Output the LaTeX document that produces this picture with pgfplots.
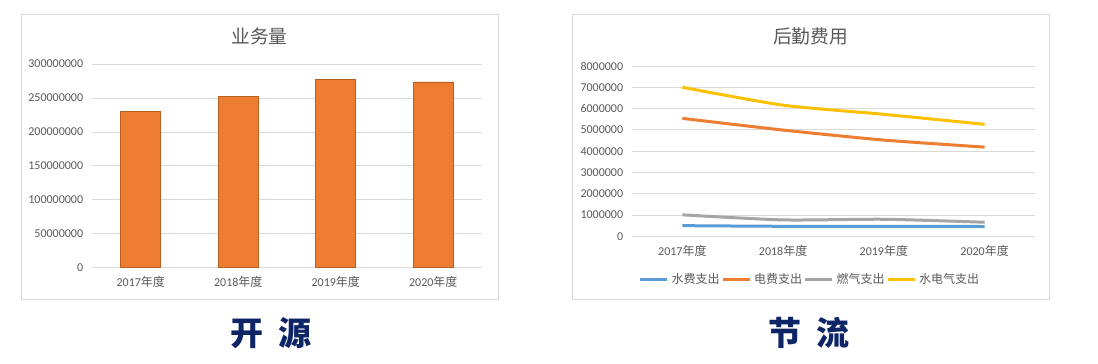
\documentclass[border=0pt]{standalone}
\usepackage{pgfplots}
\pgfplotsset{compat=1.18}
\usepackage{fontspec}
\setmainfont{Carlito}
\newfontfamily\cjk{Noto Sans CJK SC}
\definecolor{txtgray}{HTML}{595959}
\definecolor{gridgray}{HTML}{D9D9D9}
\definecolor{framegray}{HTML}{D9D9D9}
\definecolor{barfill}{HTML}{ED7D31}
\definecolor{baredge}{HTML}{B85F22}
\definecolor{sblue}{HTML}{5B9BD5}
\definecolor{sorange}{HTML}{ED7D31}
\definecolor{sgray}{HTML}{A5A5A5}
\definecolor{syellow}{HTML}{FFC000}
\definecolor{navy}{HTML}{0D2466}
\pgfplotsset{
  excelaxis/.style={
    scale only axis,
    anchor=south west,
    xmin=-0.5, xmax=3.5,
    ymin=0,
    scaled y ticks=false,
    axis line style={draw=none},
    major tick length=0pt,
    ymajorgrids,
    grid style={color=gridgray, line width=0.75bp},
    xtick={0,1,2,3},
    xticklabels={2017{\cjk 年度},2018{\cjk 年度},2019{\cjk 年度},2020{\cjk 年度}},
    tick label style={font=\fontsize{12bp}{14bp}\selectfont, text=txtgray},
    yticklabel style={anchor=east, inner sep=0pt, xshift=-8.7bp},
    xticklabel style={anchor=center, inner sep=0pt, yshift=-14.5bp},
    /pgf/number format/assume math mode=true,
    clip=false,
  }
}
\begin{document}
\begin{tikzpicture}
\path[fill=white, use as bounding box] (0bp,0bp) rectangle (1098bp,-364bp);
% frames
\draw[framegray, line width=0.75bp] (21.7bp,-14.3bp) rectangle (498bp,-299bp);
\draw[framegray, line width=0.75bp] (572.7bp,-14.3bp) rectangle (1049bp,-299bp);
% titles
\node[text=txtgray, inner sep=0pt] at (259.5bp,-36bp) {\cjk\fontsize{18.7bp}{22bp}\selectfont 业务量};
\node[text=txtgray, inner sep=0pt] at (810.5bp,-36bp) {\cjk\fontsize{18.7bp}{22bp}\selectfont 后勤费用};

\begin{axis}[excelaxis,
  at={(92bp,-267.7bp)},
  width=390bp, height=203.7bp,
  ymax=300000000,
  ytick={0,50000000,100000000,150000000,200000000,250000000,300000000},
  yticklabels={0,50000000,100000000,150000000,200000000,250000000,300000000},
]
\addplot[ybar, bar width=40bp, fill=barfill, draw=baredge, line width=0.9bp]
  coordinates {(0,230300000) (1,252400000) (2,277500000) (3,273500000)};
\end{axis}

\begin{axis}[excelaxis,
  at={(632bp,-236.3bp)},
  width=403bp, height=170.3bp,
  ymax=8000000,
  ytick={0,1000000,2000000,3000000,4000000,5000000,6000000,7000000,8000000},
  yticklabels={0,1000000,2000000,3000000,4000000,5000000,6000000,7000000,8000000},
  legend columns=4,
  legend style={at={(0.44,-0.2525)}, anchor=center, draw=none, fill=none,
    font=\fontsize{12bp}{14bp}\selectfont, text=txtgray,
    nodes={inner sep=1bp},
    /tikz/every odd column/.append style={column sep=2bp},
    /tikz/every even column/.append style={column sep=0.5bp}},
  legend image code/.code={\draw[#1] (0bp,0bp) -- (27bp,0bp);},
]
\addplot[sblue, line width=3bp, smooth, tension=0.4]
  coordinates {(0,500000) (1,470000) (2,470000) (3,460000)};
\addlegendentry{\cjk 水费支出}
\addplot[sorange, line width=3bp, smooth, tension=0.4]
  coordinates {(0,5540000) (1,4990000) (2,4520000) (3,4190000)};
\addlegendentry{\cjk 电费支出}
\addplot[sgray, line width=3bp, smooth, tension=0.4]
  coordinates {(0,1010000) (1,770000) (2,800000) (3,660000)};
\addlegendentry{\cjk 燃气支出}
\addplot[syellow, line width=3bp, smooth, tension=0.4]
  coordinates {(0,7000000) (1,6160000) (2,5730000) (3,5260000)};
\addlegendentry{\cjk 水电气支出}
\end{axis}

% big captions
\node[text=navy, inner sep=0pt] at (270.8bp,-333bp) {\cjk\bfseries\fontsize{33bp}{36bp}\selectfont 开\hspace{15bp}源};
\node[text=navy, inner sep=0pt] at (809bp,-333bp) {\cjk\bfseries\fontsize{33bp}{36bp}\selectfont 节\hspace{15bp}流};
\end{tikzpicture}
\end{document}
